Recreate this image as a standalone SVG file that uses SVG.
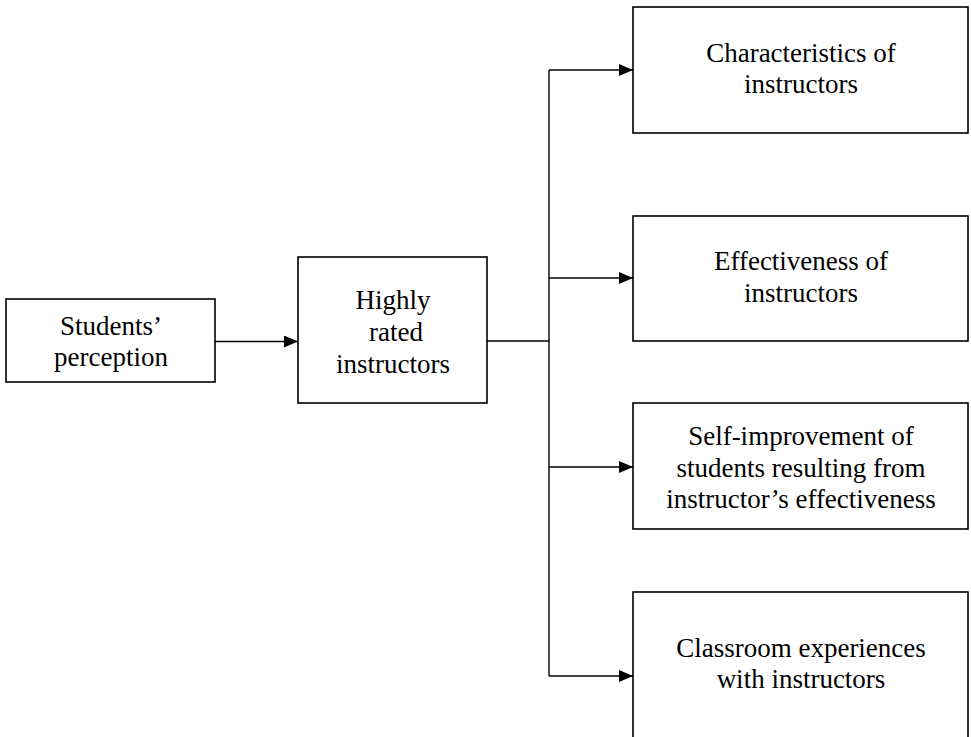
<svg xmlns="http://www.w3.org/2000/svg" width="971" height="737" viewBox="0 0 971 737">
<style>
.box{fill:#fff;stroke:#000;stroke-width:1.6}
.lbl{font-family:"Liberation Serif","Times New Roman",serif;font-size:27px;fill:#000;text-anchor:middle}
.con{fill:none;stroke:#000;stroke-width:1.4}
</style>
<defs>
<marker id="ah" markerWidth="14" markerHeight="12" refX="14" refY="6" orient="auto" markerUnits="userSpaceOnUse">
<path d="M0,0 L14,6 L0,12 Z" fill="#000"/>
</marker>
</defs>
<rect width="971" height="737" fill="#fff"/>
<g id="connectors">
<line class="con" x1="215" y1="341.5" x2="298" y2="341.5" marker-end="url(#ah)"/>
<line class="con" x1="487" y1="341" x2="549" y2="341"/>
<line class="con" x1="549" y1="70" x2="549" y2="676"/>
<line class="con" x1="549" y1="70" x2="633" y2="70" marker-end="url(#ah)"/>
<line class="con" x1="549" y1="278" x2="633" y2="278" marker-end="url(#ah)"/>
<line class="con" x1="549" y1="467" x2="633" y2="467" marker-end="url(#ah)"/>
<line class="con" x1="549" y1="676" x2="633" y2="676" marker-end="url(#ah)"/>
</g>
<g id="students-perception">
<rect class="box" x="6" y="299" width="209" height="83"/>
<text class="lbl" x="111" y="335">Students’</text>
<text class="lbl" x="111" y="366">perception</text>
</g>
<g id="highly-rated">
<rect class="box" x="298" y="257" width="189" height="146"/>
<text class="lbl" x="393" y="309">Highly</text>
<text class="lbl" x="396" y="341">rated</text>
<text class="lbl" x="393" y="373">instructors</text>
</g>
<g id="characteristics">
<rect class="box" x="633" y="7" width="335" height="126"/>
<text class="lbl" x="801" y="62">Characteristics of</text>
<text class="lbl" x="801" y="93">instructors</text>
</g>
<g id="effectiveness">
<rect class="box" x="633" y="216" width="335" height="125"/>
<text class="lbl" x="801" y="270">Effectiveness of</text>
<text class="lbl" x="801" y="302">instructors</text>
</g>
<g id="self-improvement">
<rect class="box" x="633" y="403" width="335" height="126"/>
<text class="lbl" x="801" y="445">Self-improvement of</text>
<text class="lbl" x="801" y="477">students resulting from</text>
<text class="lbl" x="801" y="508">instructor’s effectiveness</text>
</g>
<g id="classroom">
<rect class="box" x="633" y="592" width="335" height="160"/>
<text class="lbl" x="801" y="657">Classroom experiences</text>
<text class="lbl" x="801" y="688">with instructors</text>
</g>
</svg>
